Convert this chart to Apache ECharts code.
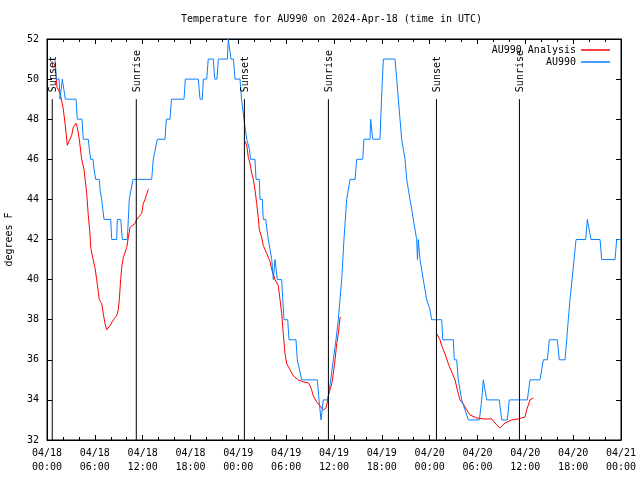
<!DOCTYPE html>
<html><head><meta charset="utf-8">
<script src="https://cdn.jsdelivr.net/npm/echarts/dist/echarts.min.js"></script>
<style>html,body{margin:0;padding:0;background:#fff}#c{width:640px;height:480px}</style>
</head><body><div id="c"></div>
<script>
// Hours since 2024-04-18 00:00 UTC
const xTickLabels = ['04/18\n00:00','04/18\n06:00','04/18\n12:00','04/18\n18:00','04/19\n00:00','04/19\n06:00','04/19\n12:00','04/19\n18:00','04/20\n00:00','04/20\n06:00','04/20\n12:00','04/20\n18:00','04/21\n00:00'];

const obsHour = [0.29,1.00,1.19,1.51,1.63,1.79,1.92,2.09,2.30,3.64,3.80,4.39,4.55,5.18,5.31,5.48,5.77,5.90,6.11,6.56,6.65,6.86,7.02,7.15,7.99,8.12,8.74,8.82,9.25,9.45,10.07,10.20,10.32,10.54,10.79,13.13,13.33,13.55,13.84,14.80,14.97,15.43,15.62,17.19,17.35,18.98,19.19,19.48,19.61,20.03,20.23,20.86,21.04,21.32,21.49,22.62,22.74,22.92,23.08,23.39,23.58,24.21,24.40,24.59,24.71,24.90,25.05,25.28,25.40,25.53,26.09,26.22,26.63,26.72,27.01,27.13,27.43,27.76,27.97,28.19,28.29,28.39,28.54,28.60,28.81,28.89,29.44,29.57,29.64,29.73,30.19,30.36,31.23,31.40,31.61,31.95,33.91,34.12,34.24,34.37,34.66,35.21,35.59,35.91,36.25,36.54,36.75,36.97,37.25,37.59,37.82,38.01,38.64,38.85,39.60,39.76,40.52,40.60,40.77,40.86,41.77,41.96,42.19,43.65,43.87,44.07,44.28,44.49,44.91,45.12,45.53,45.75,45.95,46.16,46.37,46.47,46.57,46.69,46.79,47.00,47.20,47.42,47.63,47.83,48.04,48.25,49.51,49.64,50.97,51.09,51.39,51.59,51.81,52.02,52.22,52.85,54.23,54.53,54.73,54.94,55.15,56.73,57.04,57.74,57.99,60.25,60.59,61.84,62.26,62.76,63.01,64.01,64.26,64.98,65.19,65.39,65.60,65.86,66.11,66.36,67.57,67.78,68.03,68.24,69.37,69.58,71.25,71.46,72.00];
const obsTemp = [51,51,50,50,49,49,50,50,49,49,48,48,47,47,46.5,46,46,45.5,45,45,44.5,44,44,43,43,42,42,43,43,42,42,43,44,44,45,45,46,46,47,47,48,48,49,49,50,50,49,49,50,50,51,51,50,50,51,51,52,52,51,51,50,50,49,49,48,48,47,47,46.5,46,46,45,45,44,44,43,43,42,42,41,41,40,40,41,41,40,40,39,39,38,38,37,37,36,36,35,35,34,34,33,34,34,35,36,37,38,39,40,42,44,44,45,45,46,46,47,47,48,48,47,47,49,51,51,50,49,48,47,46,45,44,43.5,43,42.5,42,41,42,42,41,41,40,40,39,39,38.5,38,38,37,37,36,36,35,35,34,34,33,33,34,35,35,34,34,33,33,34,34,35,35,36,36,37,37,36,36,37,38,39,40,41,42,42,43,43,42,42,41,41,42,42];

const anaHour1 = [0.59,1.00,1.25,1.63,2.01,2.26,2.55,2.80,3.10,3.30,3.64,3.80,4.05,4.35,4.64,4.98,5.18,5.39,5.48,5.73,6.02,6.23,6.43,6.56,6.86,7.06,7.28,7.49,7.69,7.90,8.32,8.74,8.94,9.07,9.24,9.37,9.57,10.00,10.20,10.41,11.04,11.25,11.88,12.08,12.29,12.71];
const anaTemp1 = [50.9,50.7,49.6,49.3,48.6,47.8,46.7,46.7,47.2,47.6,47.8,47.6,47.0,46.0,45.5,44.3,43.2,42.3,41.6,41.1,40.6,40.0,39.4,39.0,38.8,38.3,37.8,37.5,37.5,37.7,38.0,38.2,38.5,39.0,40.0,40.6,41.1,41.6,42.1,42.6,42.8,43.0,43.3,43.8,44.0,44.5];
const anaHour2 = [24.84,25.05,25.25,25.46,25.68,25.88,26.09,26.30,26.50,26.63,26.93,27.13,27.56,27.97,28.19,28.60,29.01,29.23,29.44,29.64,29.85,30.07,30.48,30.90,31.52,32.15,32.78,32.99,33.20,33.40,33.83,34.24,34.66,35.00,35.16,35.29,35.50,35.71,35.91,36.13,36.34,36.54,36.75,36.88];
const anaTemp2 = [46.9,46.7,46.1,45.8,45.3,45.0,44.5,43.8,43.1,42.5,42.1,41.7,41.3,40.9,40.5,40.0,39.7,39.0,38.3,37.3,36.3,35.8,35.5,35.2,35.0,34.9,34.85,34.7,34.5,34.2,33.9,33.7,33.5,33.6,33.9,34.2,34.5,34.8,35.3,36.0,36.8,37.3,38.1,38.1];
const anaHour3 = [48.88,49.30,49.51,49.92,50.34,50.76,51.18,51.59,51.81,52.22,52.64,53.06,53.90,54.73,55.78,55.98,56.41,56.82,57.45,58.29,59.12,59.96,60.17,60.38,60.59,61.00];
const anaTemp3 = [37.3,37.0,36.7,36.3,35.8,35.4,35.0,34.3,34.0,33.8,33.5,33.25,33.1,33.05,33.05,32.95,32.75,32.6,32.85,33.0,33.05,33.15,33.5,33.75,34.0,34.1];

const eventHour = [0.66,11.20,24.76,35.30,48.85,59.26];
const eventName = ['Sunset','Sunrise','Sunset','Sunrise','Sunset','Sunrise'];
const eventLineTop = 49;

const FONT = 'DejaVu Sans Mono';
const RED = '#ff0000', BLUE = '#0a80ff';
const zip = (a, b) => a.map((v, i) => [v, b[i]]);

const chart = echarts.init(document.getElementById('c'), null, {renderer: 'canvas'});
const axisX = (pos, showLabel) => ({
  type: 'value', position: pos, min: 0, max: 72, interval: 6,
  axisLine: {show: true, onZero: false, lineStyle: {color: '#000', width: 1}},
  axisTick: {show: true, inside: true, length: 5, lineStyle: {color: '#000'}},
  minorTick: {show: true, splitNumber: 3, length: 3, lineStyle: {color: '#000'}},
  splitLine: {show: false}, minorSplitLine: {show: false},
  axisLabel: {show: showLabel, color: '#000', fontFamily: FONT, fontSize: 10, lineHeight: 14, margin: 6,
    formatter: v => xTickLabels[Math.round(v / 6)]}
});
const axisY = (pos, showLabel) => ({
  type: 'value', position: pos, min: 32, max: 52, interval: 2,
  axisLine: {show: true, onZero: false, lineStyle: {color: '#000', width: 1}},
  axisTick: {show: true, inside: true, length: 5, lineStyle: {color: '#000'}},
  splitLine: {show: false},
  axisLabel: {show: showLabel, color: '#000', fontFamily: FONT, fontSize: 10, margin: 8},
  name: showLabel ? 'degrees F' : '', nameLocation: 'middle', nameGap: 33,
  nameTextStyle: {color: '#000', fontFamily: FONT, fontSize: 10}
});

const anaStyle = {type: 'line', name: 'AU990 Analysis', symbol: 'none', showSymbol: false,
  lineStyle: {color: RED, width: 1}, itemStyle: {color: RED}, z: 3};

chart.setOption({
  animation: false,
  backgroundColor: '#fff',
  title: {text: 'Temperature for AU990 on 2024-Apr-18 (time in UTC)', left: 176, top: 9,
    textStyle: {color: '#000', fontFamily: FONT, fontSize: 10, fontWeight: 'normal'}},
  grid: {left: 47, right: 19, top: 39, bottom: 40, containLabel: false, outerBoundsMode: 'none',
    show: true, borderColor: '#000', borderWidth: 1},
  legend: {data: [{name: 'AU990 Analysis', icon: 'rect', itemStyle: {color: RED}},
                  {name: 'AU990', icon: 'rect', itemStyle: {color: BLUE}}],
    orient: 'vertical', right: 25, top: 39, align: 'right',
    itemWidth: 29, itemHeight: 1.5, itemGap: 0,
    textStyle: {color: '#000', fontFamily: FONT, fontSize: 10, lineHeight: 12}},
  xAxis: [axisX('bottom', true), axisX('top', false)],
  yAxis: [axisY('left', true), axisY('right', false)],
  series: [
    Object.assign({data: zip(anaHour1, anaTemp1)}, anaStyle),
    Object.assign({data: zip(anaHour2, anaTemp2)}, anaStyle),
    Object.assign({data: zip(anaHour3, anaTemp3)}, anaStyle),
    {type: 'line', name: 'AU990', symbol: 'none', showSymbol: false, data: zip(obsHour, obsTemp),
      lineStyle: {color: BLUE, width: 1}, itemStyle: {color: BLUE}, z: 4},
    {type: 'custom', name: 'events', z: 5, silent: true,
      data: eventHour.map((t, i) => ({value: [t], name: eventName[i]})),
      renderItem: (params, api) => {
        const t = api.value(0);
        const p0 = api.coord([t, 32]);
        const p1 = api.coord([t, eventLineTop]);
        return {type: 'group', children: [
          {type: 'line', shape: {x1: p0[0], y1: p0[1], x2: p1[0], y2: p1[1]},
            style: {stroke: '#000', lineWidth: 1}},
          {type: 'text', x: p1[0] + 1, y: p1[1] - 7, rotation: Math.PI / 2,
            style: {text: eventName[params.dataIndex], fill: '#000', font: '10px ' + FONT,
              textAlign: 'left', textVerticalAlign: 'middle'}}
        ]};
      }}
  ]
});
</script></body></html>
